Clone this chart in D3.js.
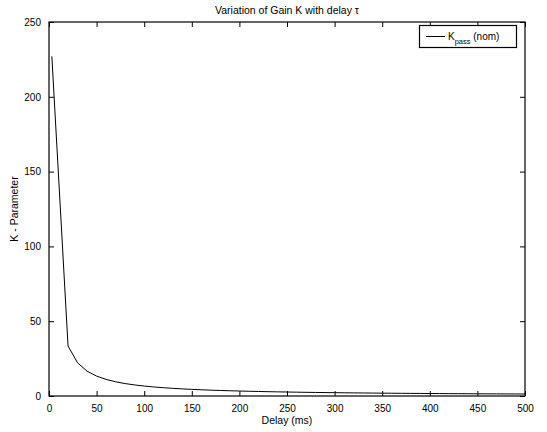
<!DOCTYPE html>
<html><head><meta charset="utf-8">
<script src="https://cdn.jsdelivr.net/npm/d3@7"></script>
<style>body{margin:0;background:#fff}svg{display:block}text{font-family:"Liberation Sans",Arial,sans-serif;fill:#000}</style>
</head><body><svg id="c" width="547" height="432"></svg>
<script>
const delay = [3,20,30,40,50,60,70,80,90,100,110,120,130,140,150,160,170,180,190,200,210,220,230,240,250,260,270,280,290,300,310,320,330,340,350,360,370,380,390,400,410,420,430,440,450,460,470,480,490,500];
const kPass = [227,33.4,22.2,16.6,13.3,11.1,9.5,8.3,7.4,6.65,6.05,5.55,5.12,4.75,4.43,4.16,3.91,3.69,3.5,3.33,3.17,3.02,2.89,2.77,2.66,2.56,2.46,2.38,2.29,2.22,2.15,2.08,2.02,1.96,1.9,1.85,1.8,1.75,1.71,1.66,1.62,1.58,1.55,1.51,1.48,1.45,1.42,1.39,1.36,1.33];
const xTicks = [0,50,100,150,200,250,300,350,400,450,500];
const yTicks = [0,50,100,150,200,250];
const titleText = "Variation of Gain K with delay \u03c4";
const xLabel = "Delay (ms)";
const yLabel = "K - Parameter";

const svg = d3.select("#c");
const L=49,R=525,T=22,B=396;
const x = d3.scaleLinear().domain([0,500]).range([L,R]);
const y = d3.scaleLinear().domain([0,250]).range([B,T]);
const tl=5;

// curve
svg.append("path").datum(delay.map((d,i)=>[d,kPass[i]]))
  .attr("fill","none").attr("stroke","#000").attr("stroke-width",1)
  .attr("d",d3.line().x(d=>x(d[0])).y(d=>y(d[1])));

// axes box
const g = svg.append("g").attr("font-size",10);
g.append("g").attr("transform",`translate(0,${B})`)
 .call(d3.axisBottom(x).tickValues(xTicks).tickSize(-tl).tickPadding(9).tickFormat(d3.format("d")))
 .call(s=>{s.select(".domain").remove();s.selectAll("text").attr("font-size",10).attr("font-family","Liberation Sans, Arial, sans-serif");});
g.append("g").attr("transform",`translate(0,${T})`)
 .call(d3.axisTop(x).tickValues(xTicks).tickSize(-tl).tickFormat(""))
 .call(s=>s.select(".domain").remove());
g.append("g").attr("transform",`translate(${L},0)`)
 .call(d3.axisLeft(y).tickValues(yTicks).tickSize(-tl).tickPadding(8).tickFormat(d3.format("d")))
 .call(s=>{s.select(".domain").remove();s.selectAll("text").attr("font-size",10).attr("font-family","Liberation Sans, Arial, sans-serif");});
g.append("g").attr("transform",`translate(${R},0)`)
 .call(d3.axisRight(y).tickValues(yTicks).tickSize(-tl).tickFormat(""))
 .call(s=>s.select(".domain").remove());
g.selectAll(".tick line").attr("stroke","#000");
svg.append("rect").attr("x",L).attr("y",T).attr("width",R-L).attr("height",B-T)
  .attr("fill","none").attr("stroke","#000").attr("stroke-width",1.2);

// labels
svg.append("text").attr("x",(L+R)/2).attr("y",14).attr("text-anchor","middle").attr("font-size",10.5).text(titleText);
svg.append("text").attr("x",(L+R)/2).attr("y",424).attr("text-anchor","middle").attr("font-size",10.5).text(xLabel);
svg.append("text").attr("transform",`translate(18,${(T+B)/2}) rotate(-90)`).attr("text-anchor","middle").attr("font-size",10.5).text(yLabel);

// legend
const lg = svg.append("g");
lg.append("rect").attr("x",419.5).attr("y",25.5).attr("width",97).attr("height",22)
  .attr("fill","#fff").attr("stroke","#000").attr("stroke-width",1.2);
lg.append("line").attr("x1",426).attr("x2",445).attr("y1",36.5).attr("y2",36.5).attr("stroke","#000");
const lt = lg.append("text").attr("x",448).attr("y",40).attr("font-size",10);
lt.append("tspan").text("K");
lt.append("tspan").attr("dy",3.5).attr("font-size",7.5).text("pass");
lt.append("tspan").attr("dy",-3.5).text(" (nom)");
</script></body></html>
